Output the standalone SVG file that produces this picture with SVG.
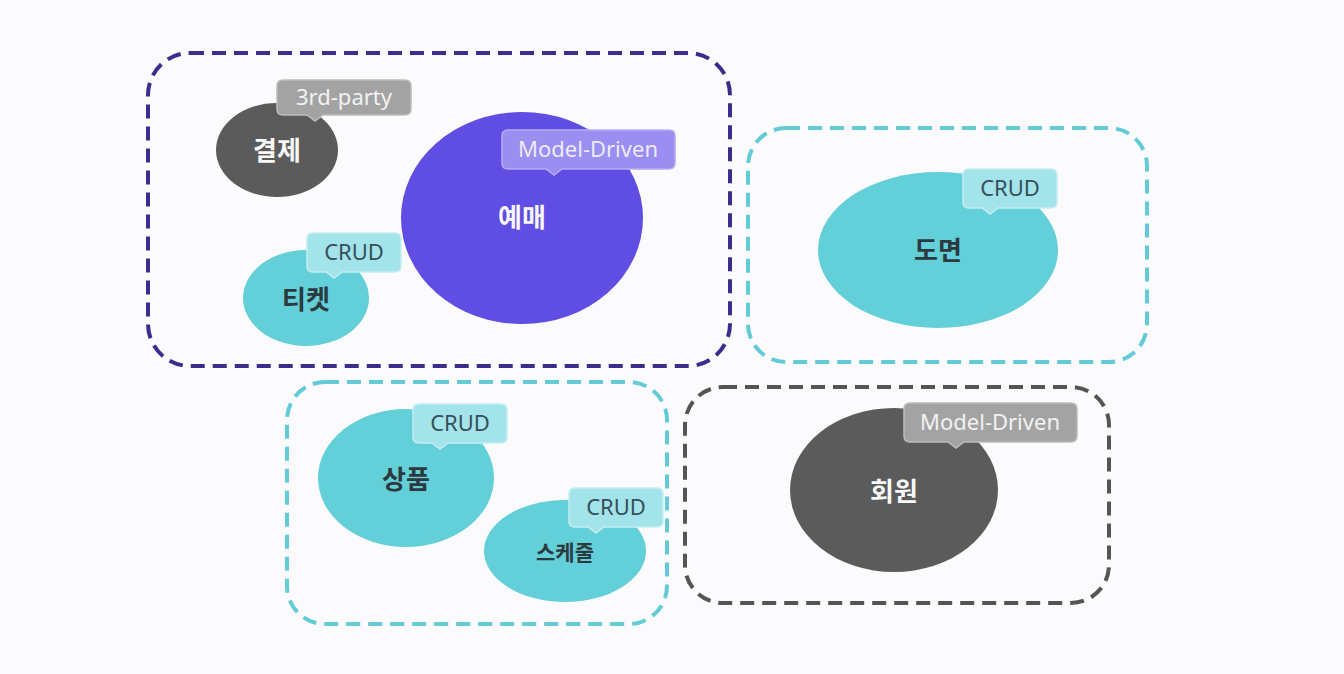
<svg xmlns="http://www.w3.org/2000/svg" xmlns:xlink="http://www.w3.org/1999/xlink" width="1344" height="674" viewBox="0 0 1344 674">
<style>
.box{fill:none;stroke-width:4;stroke-dasharray:14 8;}
.bp{stroke:#3b2d8c;}
.bt{stroke:#62cbd5;}
.bg{stroke:#555555;}
.lbl{font-family:"Noto Sans CJK KR","Noto Sans",sans-serif;font-weight:700;font-size:26px;text-anchor:middle;}
.w{fill:#f7f7f7;}
.d{fill:#2c3a40;}
.tag{font-family:"Noto Sans","Open Sans",sans-serif;font-size:22px;text-anchor:middle;}
.tc{fill:#a3e3ea;stroke:#c4eef2;stroke-width:1.5;}
.tct{fill:#36505a;}
.tg{fill:#a3a3a3;stroke:#bdbdbd;stroke-width:1.5;}
.tgt{fill:#f2f2f2;}
.tp{fill:#9a8ef0;stroke:#b6adf5;stroke-width:1.5;}
.tpt{fill:#eeeaff;}
.teal{fill:#63cfd8;}
.gray{fill:#5b5b5b;}
.purple{fill:#604de3;}
</style>
<defs>
<path id="tagCrud" d="M6,0 H88 Q94,0 94,6 V33 Q94,39 88,39 H35 L27,45 L19,39 H6 Q0,39 0,33 V6 Q0,0 6,0 Z"/>
<path id="tagMD" d="M6,0 H167 Q173,0 173,6 V33 Q173,39 167,39 H60 L52,45 L44,39 H6 Q0,39 0,33 V6 Q0,0 6,0 Z"/>
<path id="tag3rd" d="M6,0 H128 Q134,0 134,6 V29 Q134,35 128,35 H46 L38,41 L30,35 H6 Q0,35 0,29 V6 Q0,0 6,0 Z"/>
</defs>
<rect x="0" y="0" width="1344" height="674" fill="#fbfbfd"/>
<g id="connectors"></g>
<g id="box-reservation"><rect class="box bp" x="148" y="53" width="582" height="313" rx="42"/></g>
<g id="box-seatmap"><rect class="box bt" x="748" y="128" width="399" height="234" rx="38"/></g>
<g id="box-product"><rect class="box bt" x="287" y="382" width="380" height="242" rx="38"/></g>
<g id="box-member"><rect class="box bg" x="685" y="387" width="424" height="216" rx="38"/></g>

<g id="node-payment">
<ellipse class="gray" cx="277" cy="150" rx="61" ry="47"/>
<text class="lbl w" x="277" y="160">결제</text>
<use href="#tag3rd" class="tg" x="277" y="80"/>
<text class="tag tgt" x="344" y="105">3rd-party</text>
</g>
<g id="node-booking">
<ellipse class="purple" cx="522" cy="218" rx="121" ry="106"/>
<text class="lbl w" x="522" y="227">예매</text>
<use href="#tagMD" class="tp" x="502" y="130"/>
<text class="tag tpt" x="588" y="157">Model-Driven</text>
</g>
<g id="node-ticket">
<ellipse class="teal" cx="306" cy="298" rx="63" ry="48"/>
<text class="lbl d" x="306" y="309">티켓</text>
<use href="#tagCrud" class="tc" x="307" y="233"/>
<text class="tag tct" x="354" y="260">CRUD</text>
</g>
<g id="node-seatmap">
<ellipse class="teal" cx="938" cy="250" rx="120" ry="78"/>
<text class="lbl d" x="938" y="260">도면</text>
<use href="#tagCrud" class="tc" x="963" y="169"/>
<text class="tag tct" x="1010" y="196">CRUD</text>
</g>
<g id="node-product">
<ellipse class="teal" cx="406" cy="478" rx="88" ry="69"/>
<text class="lbl d" x="406" y="489">상품</text>
<use href="#tagCrud" class="tc" x="413" y="404"/>
<text class="tag tct" x="460" y="431">CRUD</text>
</g>
<g id="node-schedule">
<ellipse class="teal" cx="565" cy="551" rx="81" ry="51"/>
<text class="lbl d" x="565" y="560" style="font-size:21px">스케줄</text>
<use href="#tagCrud" class="tc" x="569" y="488"/>
<text class="tag tct" x="616" y="515">CRUD</text>
</g>
<g id="node-member">
<ellipse class="gray" cx="894" cy="490" rx="104" ry="82"/>
<text class="lbl w" x="894" y="501">회원</text>
<use href="#tagMD" class="tg" x="904" y="403"/>
<text class="tag tgt" x="990" y="430">Model-Driven</text>
</g>
</svg>
